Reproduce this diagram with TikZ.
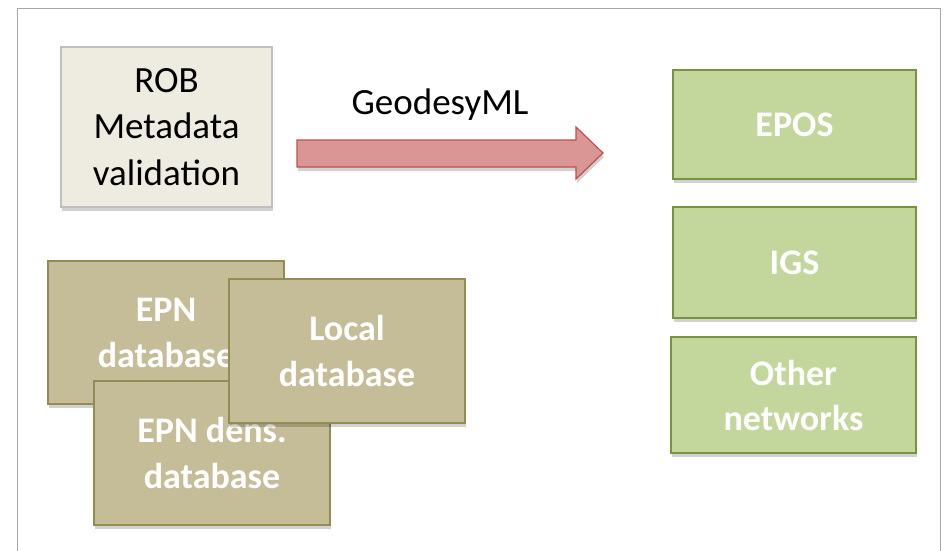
\documentclass[tikz,border=0pt]{standalone}
\usepackage{fontspec}
\setmainfont{Carlito}
\usetikzlibrary{shadows}
\definecolor{robfill}{HTML}{EEECE1}
\definecolor{robdraw}{HTML}{BFBFBF}
\definecolor{arrfill}{HTML}{D99694}
\definecolor{arrdraw}{HTML}{C0504D}
\definecolor{grnfill}{HTML}{C3D69B}
\definecolor{grndraw}{HTML}{77933C}
\definecolor{brnfill}{HTML}{C4BD97}
\definecolor{brndraw}{HTML}{948A54}
\definecolor{framec}{HTML}{A6A6A6}
\begin{document}
\begin{tikzpicture}[x=1pt,y=-1pt,
  shad/.style={drop shadow={shadow xshift=1pt,shadow yshift=-4pt,opacity=0.18,fill=black}},
  box/.style={rectangle,inner sep=0pt,line width=1.3pt,align=center,shad},
  robbox/.style={box,fill=robfill,draw=robdraw,font=\fontsize{37}{46.5}\selectfont,text=black},
  grnbox/.style={box,fill=grnfill,draw=grndraw,font=\fontsize{36}{45}\selectfont\bfseries,text=white},
  brnbox/.style={box,fill=brnfill,draw=brndraw,font=\fontsize{36}{46}\selectfont\bfseries,text=white},
  lbl/.style={font=\fontsize{37}{44}\selectfont,text=black,inner sep=0pt}]
\useasboundingbox (0,0) rectangle (949,550);
\fill[white] (0,0) rectangle (949,550);
\draw[framec,line width=1pt] (17,551) -- (17,8) -- (940,8) -- (940,551);
% ROB box
\node[robbox,minimum width=211pt,minimum height=160pt] (rob) at (166.5,127) {ROB\\Metadata\\validation};
% arrow
\coordinate (a1) at (297,140);
\coordinate (a2) at (576,140);
\coordinate (a3) at (576,127);
\coordinate (tip) at (603,153);
\coordinate (a5) at (576,179);
\coordinate (a6) at (576,167);
\coordinate (a7) at (297,167);
\filldraw[fill=arrfill,draw=arrdraw,line width=1.2pt,line join=miter,shad] (a1) -- (a2) -- (a3) -- (tip) -- (a5) -- (a6) -- (a7) -- cycle;
\node[lbl] (gml) at (440,105) {GeodesyML};
% green boxes
\node[grnbox,minimum width=243pt,minimum height=109pt] (epos) at (794.5,124.5) {EPOS};
\node[grnbox,minimum width=243pt,minimum height=111pt] (igs) at (794.5,262.5) {IGS};
\node[grnbox,minimum width=245pt,minimum height=116pt] (other) at (793.5,395) {Other\\networks};
% brown boxes
\node[brnbox,minimum width=236pt,minimum height=143pt] (epn) at (166,332.5) {EPN\\database};
\node[brnbox,minimum width=236pt,minimum height=144pt] (dens) at (212,453) {EPN dens.\\database};
\node[brnbox,minimum width=236pt,minimum height=144pt] (local) at (347,351) {Local\\database};
\end{tikzpicture}
\end{document}
